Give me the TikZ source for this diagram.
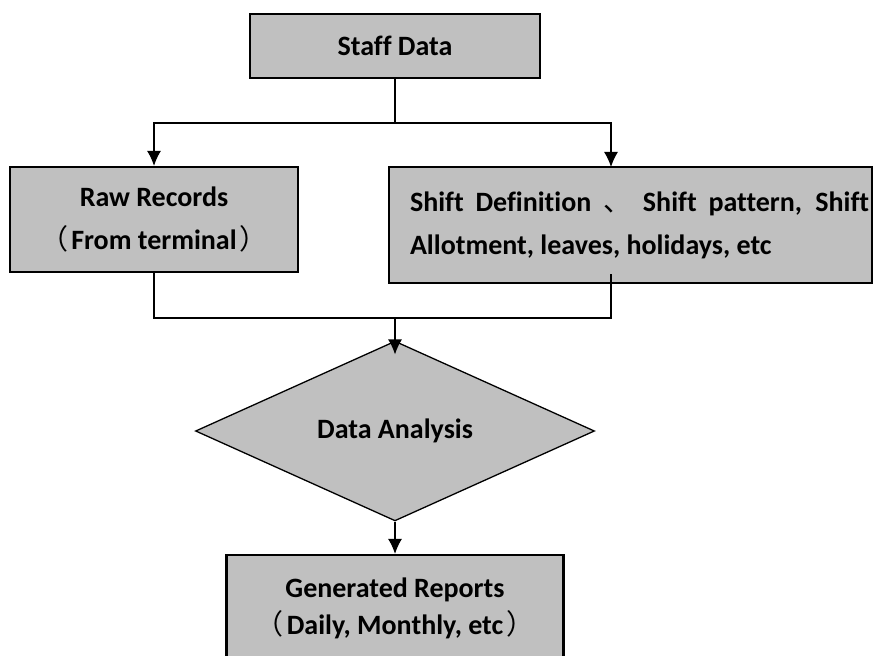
\documentclass[tikz,border=0pt]{standalone}
\usepackage{fontspec}
\setmainfont{Carlito}[Ligatures=CommonOff]
\newfontfamily\cjk{Noto Sans CJK SC}
\usepackage{xcolor}
\usetikzlibrary{arrows.meta}
\usetikzlibrary{shapes.geometric}
\definecolor{boxgray}{RGB}{192,192,192}
\tikzset{>={Latex[length=15pt,width=14pt]}}
\tikzstyle{box} = [rectangle, draw=black, line width=2.2pt, fill=boxgray, inner sep=0, font=\fontsize{28}{43}\selectfont\bfseries, align=center]
\tikzstyle{link} = [draw=black, line width=1.3pt]
\newcommand{\lbr}{{\cjk\mdseries （}\hspace{3pt}}
\newcommand{\rbr}{\hspace{3pt}{\cjk\mdseries ）}}
\newcommand{\dun}{{\cjk\mdseries 、}}

\begin{document}
\begin{tikzpicture}[x=1pt, y=-1pt]
\useasboundingbox (0,0) rectangle (874,655);
\node [box, minimum width=290pt, minimum height=64pt] (staff) at (395, 46) {Staff Data};
\node [box, minimum width=288pt, minimum height=105pt] (raw) at (154, 219.5) {Raw Records\\\lbr From terminal\rbr};
\node [box, minimum width=483pt, minimum height=116pt, align=left] (shift) at (630.5, 225) {\hspace*{18pt}\begin{minipage}{459pt}\fontsize{28}{43}\selectfont\bfseries Shift Definition \dun{} Shift pattern, Shift\linebreak Allotment, leaves, holidays, etc\end{minipage}};
\node [diamond, draw=black, line width=1.3pt, fill=boxgray, inner sep=0, minimum width=399pt, minimum height=130pt, font=\fontsize{28}{43}\selectfont\bfseries] (analysis) at (395, 431) {Data Analysis};
\node [box, minimum width=337pt, minimum height=107pt, font=\fontsize{28}{37}\selectfont\bfseries] (reports) at (395, 608.5) {Generated Reports\\\lbr Daily, Monthly, etc\rbr};
% split and join points
\coordinate (split) at (395, 123);
\coordinate (shiftin) at (611, 167);
\coordinate (shiftout) at (611, 274);
\coordinate (join) at (395, 318);
\draw [link] (staff) -- (split);
\draw [link, ->] (split) -| (raw);
\draw [link, ->] (split) -| (shiftin);
\draw [link] (raw) |- (join);
\draw [link] (shiftout) |- (join);
\draw [link, ->] (join) -- ([yshift=-14pt]analysis.north);
\draw [link, ->] (analysis) -- (reports);
\end{tikzpicture}
\end{document}
